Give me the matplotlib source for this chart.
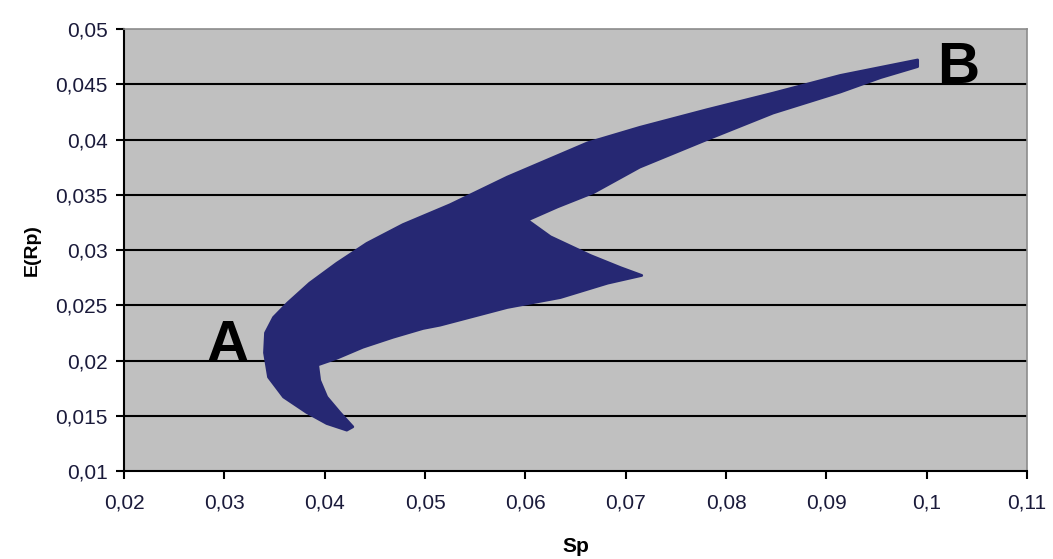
import matplotlib
matplotlib.use("Agg")
import matplotlib.pyplot as plt
from matplotlib.ticker import FuncFormatter

# Contorno del conjunto de carteras (Sp, E(Rp))
sp_borde = [
    0.0991, 0.0914, 0.0847, 0.0781, 0.0714, 0.0662, 0.0582, 0.0525,
    0.0478, 0.0442, 0.0412, 0.0385, 0.0363, 0.0349, 0.0341, 0.0340,
    0.0344, 0.0359, 0.0382, 0.0402, 0.0422, 0.0428,
    0.0415, 0.0402, 0.0395, 0.0393, 0.0412, 0.0438, 0.0468, 0.0498,
    0.0515, 0.0582, 0.0635, 0.0682, 0.0716,
    0.0695, 0.0665, 0.0625, 0.0602,
    0.0632, 0.0668, 0.0714, 0.0781, 0.0847, 0.0914, 0.0954, 0.0991,
]
erp_borde = [
    0.0472, 0.0458, 0.0442, 0.0427, 0.0411, 0.0397, 0.0366, 0.0341,
    0.0323, 0.0306, 0.0288, 0.0270, 0.0252, 0.0239, 0.0225, 0.0207,
    0.0185, 0.0167, 0.0153, 0.0143, 0.0137, 0.0140,
    0.0153, 0.0167, 0.0182, 0.0196, 0.0202, 0.0212, 0.0221, 0.0229,
    0.0232, 0.0248, 0.0257, 0.0270, 0.0277,
    0.0284, 0.0295, 0.0312, 0.0327,
    0.0339, 0.0352, 0.0375, 0.0400, 0.0424, 0.0443, 0.0456, 0.0466,
]

x_ticks = [0.02, 0.03, 0.04, 0.05, 0.06, 0.07, 0.08, 0.09, 0.10, 0.11]
y_ticks = [0.01, 0.015, 0.02, 0.025, 0.03, 0.035, 0.04, 0.045, 0.05]

# Etiquetas de los extremos
etiquetas = ["A", "B"]
etiquetas_sp = [0.0303, 0.1031]
etiquetas_erp = [0.0200, 0.0451]

plt.rcParams["font.family"] = ["Liberation Sans", "DejaVu Sans"]

fig = plt.figure(figsize=(10.53, 5.59), dpi=100)
ax = fig.add_axes([0.1178, 0.1574, 0.8575, 0.7907])

ax.set_facecolor("#c0c0c0")
ax.fill(sp_borde, erp_borde, facecolor="#262873", edgecolor="#262873",
        linewidth=2, joinstyle="round", zorder=3)

ax.set_xlim(0.02, 0.11)
ax.set_ylim(0.01, 0.05)
ax.set_xticks(x_ticks)
ax.set_yticks(y_ticks)


def coma(v, pos):
    return ("%g" % round(v, 4)).replace(".", ",")


ax.xaxis.set_major_formatter(FuncFormatter(coma))
ax.yaxis.set_major_formatter(FuncFormatter(coma))

for y in y_ticks[1:-1]:
    ax.axhline(y, color="black", linewidth=1.5, zorder=2)

for lado in ["top", "right"]:
    ax.spines[lado].set_color("#8c8c8c")
    ax.spines[lado].set_linewidth(1.2)
for lado in ["left", "bottom"]:
    ax.spines[lado].set_color("black")
    ax.spines[lado].set_linewidth(1.5)

ax.tick_params(axis="both", direction="out", length=6, width=1.5,
               labelsize=15, colors="black", labelcolor="#1a1a3a")
ax.tick_params(axis="x", pad=10)
ax.tick_params(axis="y", pad=6)

ax.set_xlabel("Sp", fontsize=15, fontweight="bold", labelpad=18)
ax.set_ylabel("E(Rp)", fontsize=14, fontweight="bold", labelpad=10)

for texto, sx, sy in zip(etiquetas, etiquetas_sp, etiquetas_erp):
    ax.text(sx, sy, texto, fontsize=42, fontweight="bold", ha="center",
            va="baseline", color="black", zorder=4)

fig.savefig("out.png", dpi=100)
